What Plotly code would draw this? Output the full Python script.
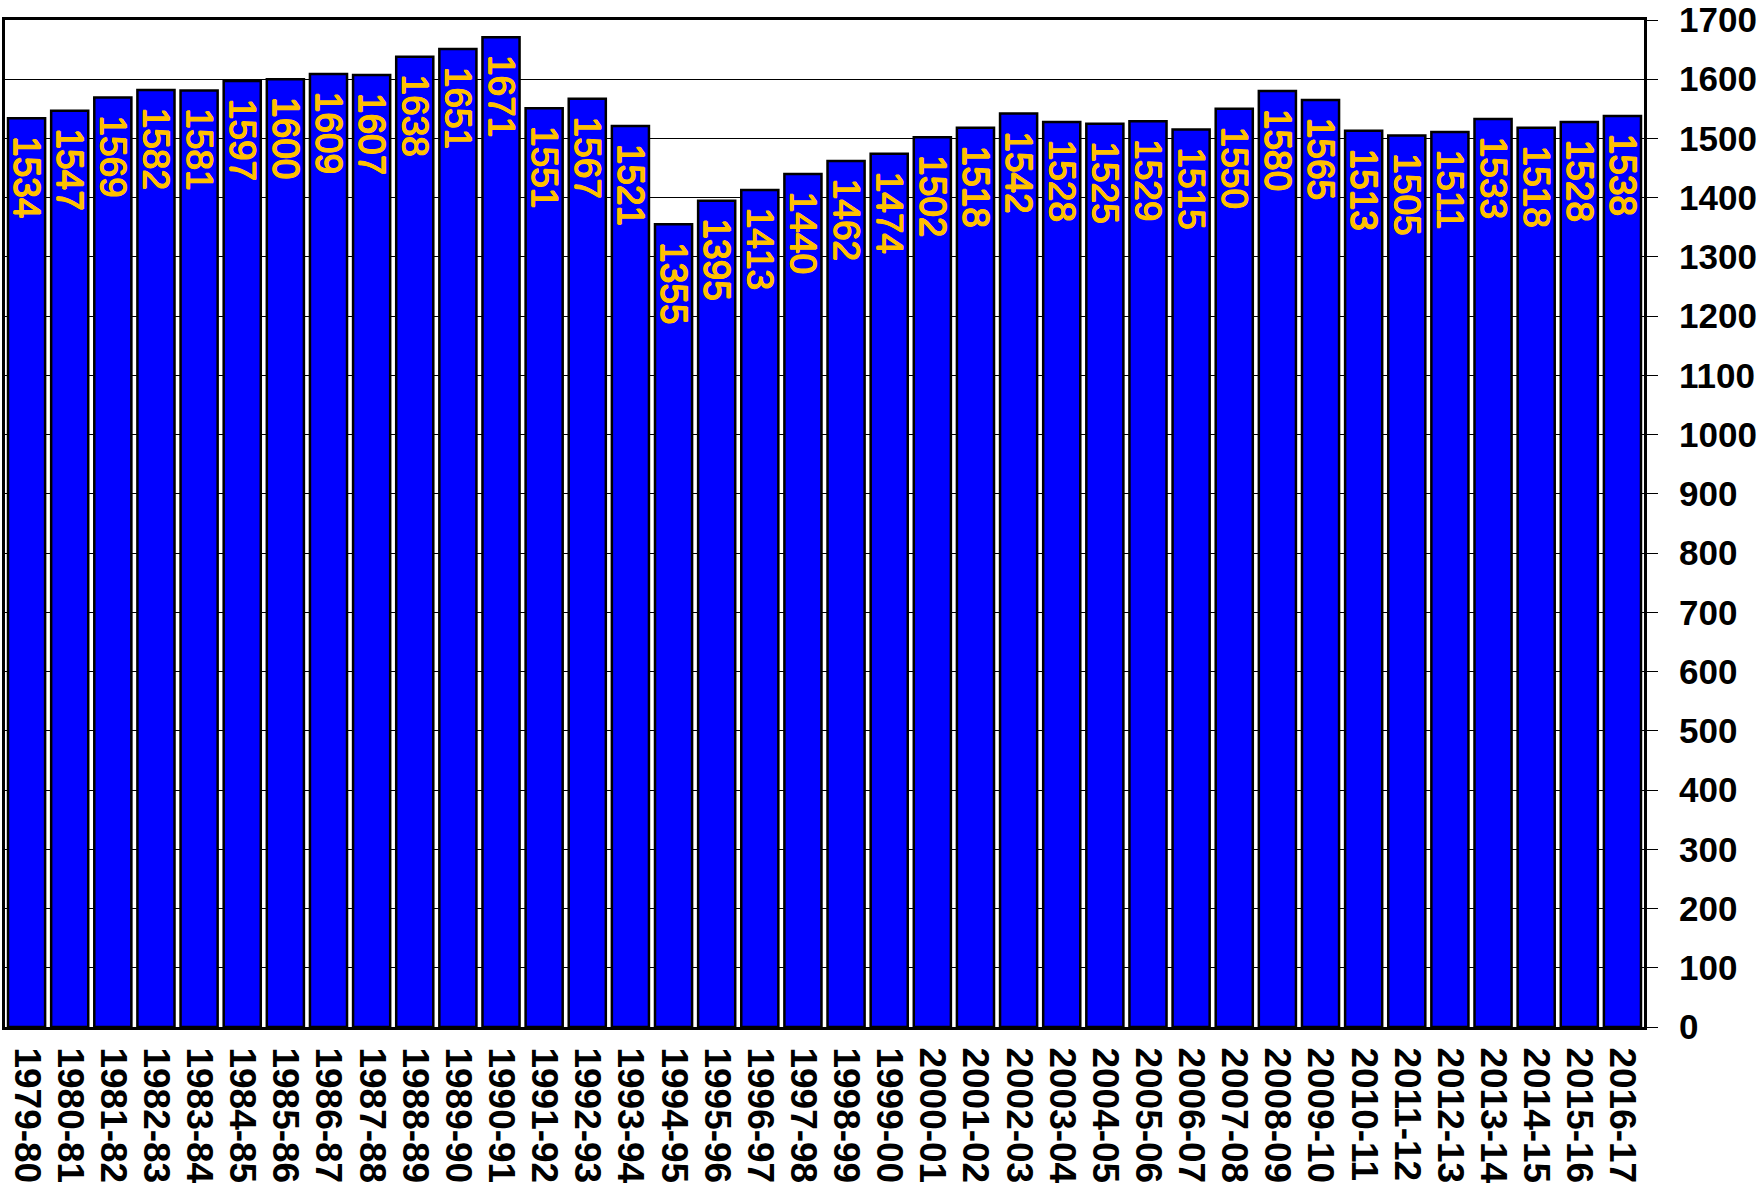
import plotly.graph_objects as go

seasons = ["1979-80", "1980-81", "1981-82", "1982-83", "1983-84", "1984-85", "1985-86",
           "1986-87", "1987-88", "1988-89", "1989-90", "1990-91", "1991-92", "1992-93",
           "1993-94", "1994-95", "1995-96", "1996-97", "1997-98", "1998-99", "1999-00",
           "2000-01", "2001-02", "2002-03", "2003-04", "2004-05", "2005-06", "2006-07",
           "2007-08", "2008-09", "2009-10", "2010-11", "2011-12", "2012-13", "2013-14",
           "2014-15", "2015-16", "2016-17"]
values = [1534, 1547, 1569, 1582, 1581, 1597, 1600, 1609, 1607, 1638, 1651, 1671,
          1551, 1567, 1521, 1355, 1395, 1413, 1440, 1462, 1474, 1502, 1518, 1542,
          1528, 1525, 1529, 1515, 1550, 1580, 1565, 1513, 1505, 1511, 1533, 1518,
          1528, 1538]
y_ticks = list(range(0, 1701, 100))

FONT = "Liberation Sans, Arial, sans-serif"
GOLD = "#FFC000"

fig = go.Figure(go.Bar(
    x=seasons, y=values,
    marker=dict(color="#0000FF", line=dict(color="black", width=2.5)),
    texttemplate="\u2009\u2009%{y}",
    textposition="inside",
    insidetextanchor="end",
    textangle=90,
    constraintext="none",
    textfont=dict(family=FONT, size=37, color=GOLD,
                  shadow=f"0.7px 0 0 {GOLD}, -0.7px 0 0 {GOLD}, 0 0.7px 0 {GOLD}, 0 -0.7px 0 {GOLD}"),
    cliponaxis=False,
    hoverinfo="x+y",
))

fig.update_layout(
    width=1762, height=1189,
    margin=dict(l=5, r=118, t=20, b=162, autoexpand=False),
    plot_bgcolor="white", paper_bgcolor="white",
    bargap=0.14,
    showlegend=False,
    xaxis=dict(
        type="category",
        tickmode="array",
        tickvals=seasons,
        ticktext=seasons,
        tickangle=90,
        tickfont=dict(family=FONT, size=37, color="black", weight="bold"),
        showline=True, linecolor="black", linewidth=3, mirror=True,
        ticks="", showgrid=False,
        ticklabelstandoff=10,
    ),
    yaxis=dict(
        side="right",
        range=[0, 1700],
        tickvals=y_ticks,
        ticktext=[str(t) for t in y_ticks],
        tickfont=dict(family=FONT, size=35, color="black", weight="bold"),
        showline=True, linecolor="black", linewidth=3, mirror=True,
        ticks="outside", ticklen=11, tickwidth=1, tickcolor="black",
        showgrid=True, gridcolor="black", gridwidth=1,
        zeroline=False,
        ticklabelstandoff=14,
    ),
)

fig.write_html("out.html",
               config={"displayModeBar": False},
               post_script="document.body.style.margin='0';document.body.style.overflow='hidden';")
